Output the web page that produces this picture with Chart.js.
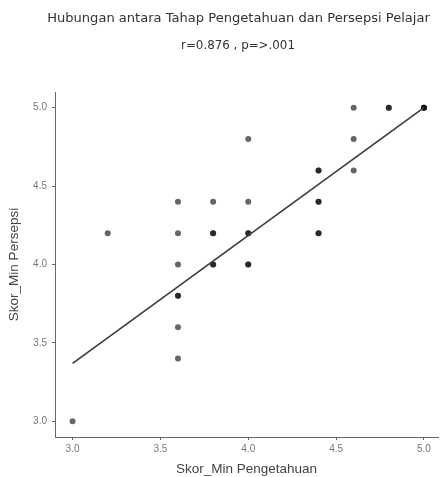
<!DOCTYPE html>
<html>
<head>
  <title>Hubungan antara Tahap Pengetahuan dan Persepsi Pelajar</title>
  <script src="https://cdn.jsdelivr.net/npm/chart.js"></script>
  <style>
    html, body { margin: 0; padding: 0; background: #fff; }
    #wrap { width: 442px; height: 477px; }
  </style>
</head>
<body>
  <div id="wrap"><canvas id="scatter"></canvas></div>

  <script>
    const titleText = "Hubungan antara Tahap Pengetahuan dan Persepsi Pelajar";
    const subtitleText = "r=0.876 , p=>.001";
    const xLabel = "Skor_Min Pengetahuan";
    const yLabel = "Skor_Min Persepsi";

    // scores (overlapping students repeated, so they show darker)
    const pengetahuan = [3.0, 3.2,
      3.6, 3.6, 3.6, 3.6, 3.6, 3.6, 3.6,
      3.8, 3.8, 3.8, 3.8, 3.8,
      4.0, 4.0, 4.0, 4.0, 4.0, 4.0,
      4.4, 4.4, 4.4, 4.4, 4.4, 4.4,
      4.6, 4.6, 4.6,
      4.8, 4.8,
      5.0, 5.0, 5.0];
    const persepsi = [3.0, 4.2,
      4.4, 4.2, 4.0, 3.8, 3.8, 3.6, 3.4,
      4.4, 4.2, 4.2, 4.0, 4.0,
      4.8, 4.4, 4.2, 4.2, 4.0, 4.0,
      4.6, 4.6, 4.4, 4.4, 4.2, 4.2,
      5.0, 4.8, 4.6,
      5.0, 5.0,
      5.0, 5.0, 5.0];

    // fitted line ends
    const fitX = [3.0, 5.0];
    const fitY = [3.37, 5.0];

    const xTicks = [3.0, 3.5, 4.0, 4.5, 5.0];
    const yTicks = [3.0, 3.5, 4.0, 4.5, 5.0];

    const points = pengetahuan.map((x, i) => ({ x: x, y: persepsi[i] }));
    const fitLine = fitX.map((x, i) => ({ x: x, y: fitY[i] }));

    // write a line centred at cx, shrinking/growing the font to the wanted width
    function fitText(c, text, cx, cy, width, family) {
      c.font = "12px " + family;
      const size = 12 * width / c.measureText(text).width;
      c.font = size.toFixed(2) + "px " + family;
      c.fillText(text, cx, cy);
    }

    // draws the two heading lines above the plot
    const headings = {
      id: "headings",
      afterDraw(chart) {
        const c = chart.ctx;
        c.save();
        c.fillStyle = "#333";
        c.textAlign = "center";
        c.textBaseline = "middle";
        fitText(c, titleText, 238.5, 19, 383, "'DejaVu Sans'");
        fitText(c, subtitleText, 238, 46, 114, "'DejaVu Sans'");
        c.restore();
      }
    };

    const axisColor = "#666";
    const tickFont = { family: "'Liberation Sans', Arial", size: 10 };
    const titleFont = { family: "'Liberation Sans', Arial", size: 13.5 };

    new Chart(document.getElementById("scatter"), {
      type: "scatter",
      data: {
        datasets: [
          {
            type: "line",
            data: fitLine,
            borderColor: "#3a3a3a",
            borderWidth: 1.6,
            pointRadius: 0,
            fill: false,
            order: 0
          },
          {
            data: points,
            backgroundColor: "rgba(0,0,0,0.6)",
            borderWidth: 0,
            pointRadius: 3,
            order: 1
          }
        ]
      },
      options: {
        responsive: true,
        maintainAspectRatio: false,
        animation: false,
        layout: { padding: { top: 92, right: 2, left: 0, bottom: 0 } },
        plugins: {
          legend: { display: false },
          tooltip: { enabled: false }
        },
        scales: {
          x: {
            type: "linear",
            min: 2.9,
            max: 5.08,
            afterBuildTicks: s => { s.ticks = xTicks.map(v => ({ value: v })); },
            afterFit: s => { s.height = 40; },
            grid: { drawOnChartArea: false, tickLength: 3, color: axisColor },
            border: { color: axisColor, width: 1 },
            ticks: { color: "#777", font: tickFont, padding: 3, callback: v => v.toFixed(1) },
            title: { display: true, text: xLabel, color: "#444", font: titleFont, padding: { top: 0, bottom: 0 } }
          },
          y: {
            type: "linear",
            min: 2.9,
            max: 5.1,
            afterBuildTicks: s => { s.ticks = yTicks.map(v => ({ value: v })); },
            afterFit: s => { s.width = 55; },
            grid: { drawOnChartArea: false, tickLength: 3, color: axisColor },
            border: { color: axisColor, width: 1 },
            ticks: { color: "#777", font: tickFont, padding: 5, callback: v => v.toFixed(1) },
            title: { display: true, text: yLabel, color: "#444", font: titleFont, padding: { top: 6, bottom: 0 } }
          }
        }
      },
      plugins: [headings]
    });
  </script>
</body>
</html>
